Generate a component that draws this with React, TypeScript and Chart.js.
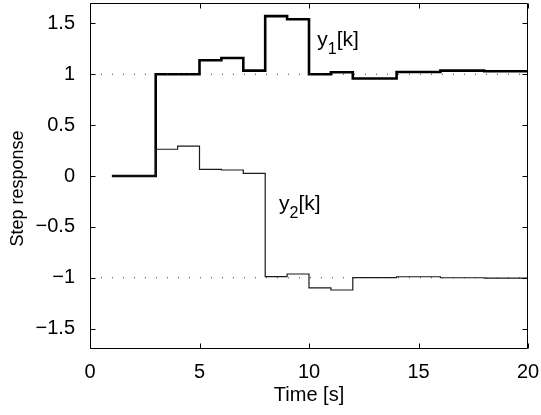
import React, { useEffect, useRef } from 'react';
import { Chart, registerables } from 'chart.js';

Chart.register(...registerables);

// ---- data ----
const timeSteps = [1, 2, 3, 4, 5, 6, 7, 8, 9, 10, 11, 12, 13, 14, 15, 16, 17, 18, 19, 20];
const y1Values = [0, 0, 1.0, 1.0, 1.137, 1.16, 1.035, 1.571, 1.541, 1.0, 1.02, 0.958, 0.958, 1.022, 1.022, 1.035, 1.035, 1.03, 1.03, 1.03];
const y2Values = [0, 0, 0.263, 0.293, 0.066, 0.059, 0.026, -0.989, -0.963, -1.1, -1.12, -0.999, -0.999, -0.99, -0.99, -1.0, -1.0, -1.004, -1.004, -1.004];
const refTimes = [0.5, 20];
const refLevels = [1, -1];
const xTicks = [0, 5, 10, 15, 20];
const yTicks = [-1.5, -1, -0.5, 0, 0.5, 1, 1.5];
const xLabel = 'Time [s]';
const yLabel = 'Step response     ';

const FONT = "'Liberation Sans', Arial, Helvetica, sans-serif";

const fmt = (v: number) => (v < 0 ? '\u2212' + String(Math.abs(v)) : String(v));

const framePlugin = {
  id: 'frameTicks',
  afterDraw(chart: any) {
    const { ctx, chartArea, scales } = chart;
    const { left, right, top, bottom } = chartArea;
    ctx.save();
    ctx.strokeStyle = '#000';
    ctx.lineWidth = 1;
    ctx.beginPath();
    const L = Math.round(left) + 0.5;
    const R = Math.round(right) - 0.5;
    const T = Math.round(top) + 0.5;
    const B = Math.round(bottom) - 0.5;
    ctx.rect(L, T, R - L, B - T);
    const tl = 5;
    xTicks.forEach((v) => {
      const px = Math.round(scales.x.getPixelForValue(v)) + 0.5;
      ctx.moveTo(px, B);
      ctx.lineTo(px, B - tl);
      ctx.moveTo(px, T);
      ctx.lineTo(px, T + tl);
    });
    yTicks.forEach((v) => {
      const py = Math.round(scales.y.getPixelForValue(v)) + 0.5;
      ctx.moveTo(L, py);
      ctx.lineTo(L + tl, py);
      ctx.moveTo(R, py);
      ctx.lineTo(R - tl, py);
    });
    ctx.stroke();
    ctx.restore();
  },
};

const labelsPlugin = {
  id: 'seriesLabels',
  afterDatasetsDraw(chart: any) {
    const { ctx, scales } = chart;
    const items = [
      { sub: '1', t: 10.38, v: 1.282 },
      { sub: '2', t: 8.63, v: -0.335 },
    ];
    ctx.save();
    ctx.fillStyle = '#000';
    ctx.textBaseline = 'alphabetic';
    ctx.textAlign = 'left';
    items.forEach((it) => {
      let x = scales.x.getPixelForValue(it.t);
      const y = scales.y.getPixelForValue(it.v);
      ctx.font = `21px ${FONT}`;
      ctx.fillText('y', x, y);
      x += ctx.measureText('y').width;
      ctx.font = `16px ${FONT}`;
      ctx.fillText(it.sub, x, y + 8);
      x += ctx.measureText(it.sub).width;
      ctx.font = `21px ${FONT}`;
      ctx.fillText('[k]', x, y);
    });
    ctx.restore();
  },
};

export default function App() {
  const ref = useRef<HTMLCanvasElement | null>(null);

  useEffect(() => {
    document.body.style.margin = '0';
    const canvas = ref.current;
    if (!canvas) return;
    const refDatasets = refLevels.map((lvl) => ({
      data: refTimes.map((t) => ({ x: t, y: lvl })),
      borderColor: '#333',
      borderWidth: 1,
      borderDash: [1, 10],
      pointRadius: 0,
      fill: false,
    }));
    const chart = new Chart(canvas, {
      type: 'line',
      data: {
        datasets: [
          ...refDatasets,
          {
            data: timeSteps.map((t, i) => ({ x: t, y: y2Values[i] })),
            stepped: 'before',
            borderColor: '#1a1a1a',
            borderWidth: 1.2,
            pointRadius: 0,
            fill: false,
          },
          {
            data: timeSteps.map((t, i) => ({ x: t, y: y1Values[i] })),
            stepped: 'before',
            borderColor: '#000',
            borderWidth: 2.6,
            pointRadius: 0,
            fill: false,
          },
        ] as any,
      },
      options: {
        responsive: false,
        animation: false,
        events: [],
        layout: { padding: { top: 3, right: 13, bottom: 0, left: 0 } },
        plugins: { legend: { display: false }, tooltip: { enabled: false } },
        scales: {
          x: {
            type: 'linear',
            min: 0,
            max: 20,
            afterBuildTicks: (s: any) => {
              s.ticks = xTicks.map((v) => ({ value: v }));
            },
            afterFit: (s: any) => {
              s.height = 66;
              s.paddingLeft = 0;
              s.paddingRight = 0;
            },
            grid: { display: false },
            border: { display: false },
            ticks: {
              padding: 3,
              color: '#000',
              maxRotation: 0,
              autoSkip: false,
              font: { family: FONT, size: 20 },
              callback: (v: any) => fmt(Number(v)),
            },
            title: {
              display: true,
              text: xLabel,
              color: '#000',
              font: { family: FONT, size: 20 },
              padding: { top: 0, bottom: 8 },
            },
          },
          y: {
            type: 'linear',
            min: -1.7,
            max: 1.7,
            afterBuildTicks: (s: any) => {
              s.ticks = yTicks.map((v) => ({ value: v }));
            },
            afterFit: (s: any) => {
              s.width = 90;
              s.paddingTop = 0;
              s.paddingBottom = 0;
            },
            grid: { display: false },
            border: { display: false },
            ticks: {
              padding: 7,
              color: '#000',
              autoSkip: false,
              font: { family: FONT, size: 20 },
              callback: (v: any) => fmt(Number(v)),
            },
            title: {
              display: true,
              text: yLabel,
              color: '#000',
              font: { family: FONT, size: 18 },
              padding: { top: 7, bottom: 0 },
            },
          },
        },
      } as any,
      plugins: [framePlugin, labelsPlugin],
    });
    return () => chart.destroy();
  }, []);

  return (
    <div style={{ width: 541, height: 415 }}>
      <canvas ref={ref} width={541} height={415} style={{ display: 'block', width: 541, height: 415 }} />
    </div>
  );
}
